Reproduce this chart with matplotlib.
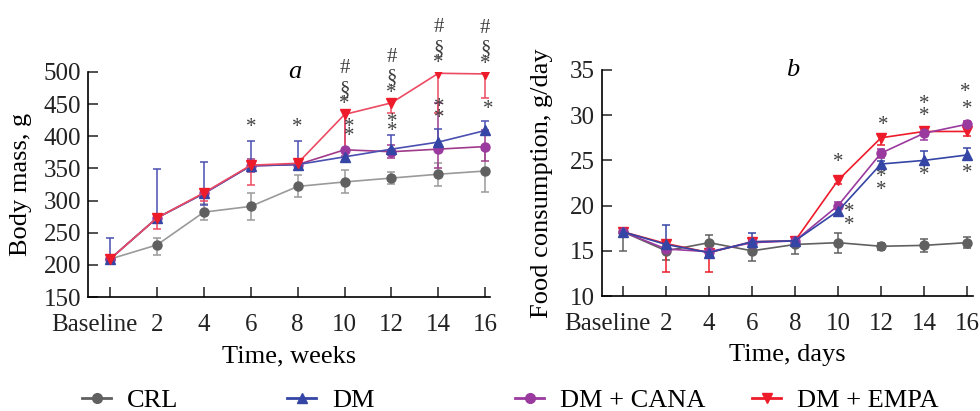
import numpy as np
import matplotlib.pyplot as plt
from matplotlib.lines import Line2D

plt.rcParams['font.family'] = ['Liberation Serif', 'DejaVu Serif']

# ── data ──────────────────────────────────────────────────────────────────────
time_labels = ['Baseline', '2', '4', '6', '8', '10', '12', '14', '16']
groups = ['CRL', 'DM', 'DM + CANA', 'DM + EMPA']

# (a) body mass, g  — error bars as (lower, upper)
mass_crl = [209, 231, 282, 291, 322, 329, 335, 341, 346]
mass_crl_lo = [5, 15, 13, 22, 17, 18, 9, 18, 32]
mass_crl_hi = [5, 10, 13, 20, 17, 18, 9, 18, 32]
mass_dm = [209, 273, 311, 354, 356, 368, 380, 391, 409]
mass_dm_lo = [5, 5, 18, 5, 5, 5, 5, 5, 5]
mass_dm_hi = [33, 76, 49, 39, 37, 12, 22, 20, 14]
mass_cana = [209, 273, 311, 354, 356, 379, 376, 380, 384]
mass_cana_lo = [5, 5, 5, 10, 5, 10, 10, 30, 22]
mass_cana_hi = [5, 5, 5, 10, 5, 60, 10, 72, 25]
mass_empa = [209, 273, 312, 355, 358, 434, 452, 498, 497]
mass_empa_lo = [5, 17, 13, 31, 10, 55, 16, 62, 37]
mass_empa_hi = [5, 5, 5, 5, 5, 7, 5, 5, 5]

# (b) food consumption, g/day
food_crl = [17.1, 15.0, 15.9, 15.0, 15.7, 15.9, 15.5, 15.6, 15.9]
food_crl_lo = [2.1, 1.0, 0.8, 1.1, 1.0, 1.1, 0.4, 0.7, 0.6]
food_crl_hi = [0.2, 0.8, 0.8, 1.1, 0.6, 1.1, 0.4, 0.7, 0.6]
food_dm = [17.1, 15.7, 14.8, 16.0, 16.1, 19.4, 24.6, 25.0, 25.6]
food_dm_lo = [0.2, 0.3, 0.3, 0.3, 0.3, 0.5, 0.5, 0.5, 0.5]
food_dm_hi = [0.2, 2.1, 0.3, 1.0, 0.3, 0.5, 0.3, 1.0, 0.8]
food_cana = [17.1, 15.2, 14.9, 15.9, 16.1, 20.0, 25.8, 28.0, 29.0]
food_cana_lo = [0.2, 0.3, 0.3, 0.3, 0.3, 0.4, 0.5, 0.7, 0.4]
food_cana_hi = [0.2, 0.3, 0.3, 0.3, 0.3, 0.4, 0.5, 0.7, 0.4]
food_empa = [17.1, 15.8, 14.8, 16.0, 16.1, 22.8, 27.5, 28.2, 28.2]
food_empa_lo = [0.2, 3.2, 2.1, 0.3, 0.3, 0.4, 0.8, 0.4, 0.5]
food_empa_hi = [0.2, 0.3, 0.3, 0.3, 0.3, 0.4, 0.3, 0.4, 0.3]

# significance marks: (time index, y value)
marks_a = [(3, 413), (4, 413),
           (5.09, 414), (5.09, 399),
           (6.02, 422), (6.02, 407),
           (7.02, 445), (7.02, 428),
           (8.06, 441)]
empa_marks_a = [5, 6, 7, 8]   # '#', '§', '*' stacked above DM + EMPA
marks_b = [(5, 24.8), (5.26, 19.2), (5.26, 17.8),
           (6.05, 28.9), (6.0, 23.1), (6.0, 21.7),
           (7.0, 31.2), (7.0, 29.9), (7.0, 23.3),
           (7.95, 32.5), (8.0, 30.6), (8.0, 23.6)]

colors = {'CRL': '#606060', 'DM': '#3545a5', 'DM + CANA': '#9a3a9e', 'DM + EMPA': '#ee1c2a'}
line_colors_a = {'CRL': '#9a9a9a', 'DM': '#4a4fb0', 'DM + CANA': '#a03a8a', 'DM + EMPA': '#ec4a62'}
markers = {'CRL': 'o', 'DM': '^', 'DM + CANA': 'o', 'DM + EMPA': 'v'}

x = np.arange(len(time_labels))

fig = plt.figure(figsize=(9.8, 4.11), dpi=100)
ax1 = fig.add_axes([88 / 980, 1 - 297 / 411, (490 - 88) / 980, 225 / 411])
ax2 = fig.add_axes([602 / 980, 1 - 296 / 411, (973 - 602) / 980, 226 / 411])


def draw_series(ax, vals, lo, hi, name, lc):
    ax.errorbar(x, vals, yerr=[lo, hi], color=lc, ecolor=lc, elinewidth=1.1,
                capsize=3, capthick=1.1, lw=1.2, marker=markers[name],
                markersize=6.5, mfc=colors[name], mec=colors[name], zorder=3)


series_a = [('CRL', mass_crl, mass_crl_lo, mass_crl_hi),
            ('DM + CANA', mass_cana, mass_cana_lo, mass_cana_hi),
            ('DM', mass_dm, mass_dm_lo, mass_dm_hi),
            ('DM + EMPA', mass_empa, mass_empa_lo, mass_empa_hi)]
for name, v, lo, hi in series_a:
    draw_series(ax1, v, lo, hi, name, line_colors_a[name])

series_b = [('CRL', food_crl, food_crl_lo, food_crl_hi),
            ('DM + EMPA', food_empa, food_empa_lo, food_empa_hi),
            ('DM + CANA', food_cana, food_cana_lo, food_cana_hi),
            ('DM', food_dm, food_dm_lo, food_dm_hi)]
for name, v, lo, hi in series_b:
    draw_series(ax2, v, lo, hi, name, colors[name])

star_kw = dict(ha='center', va='center', fontsize=15, color='#404040', clip_on=False)
for xi, yi in marks_a:
    ax1.text(xi, yi, '*', **star_kw)
for i in empa_marks_a:
    for off, s in [(7, '*'), (18, '§'), (33, '#')]:
        ax1.annotate(s, (i, mass_empa[i]), xytext=(0, off), textcoords='offset points',
                     ha='center', va='center', fontsize=15, color='#404040',
                     annotation_clip=False)
for xi, yi in marks_b:
    ax2.text(xi, yi, '*', **star_kw)

tick_pad = 12
for ax in (ax1, ax2):
    ax.spines['top'].set_visible(False)
    ax.spines['right'].set_visible(False)
    ax.spines['left'].set_linewidth(1.2)
    ax.spines['bottom'].set_linewidth(1.2)
    ax.set_xticks(x)
    # "Baseline" sits a bit left of its tick so it clears the "2"
    ax.set_xticklabels([''] + time_labels[1:])
    ax.annotate(time_labels[0], xy=(0, 0), xycoords=('data', 'axes fraction'),
                xytext=(-11.5, -tick_pad), textcoords='offset points',
                ha='center', va='top', fontsize=18, color='#222222')
    ax.tick_params(direction='in', length=7, width=1.1, labelsize=18, colors='#222222')
    ax.tick_params(axis='x', pad=tick_pad)
    ax.tick_params(axis='y', pad=5)

ax1.set_xlim(-0.47, 8.1)
ax1.set_ylim(150, 500)
ax1.set_yticks(np.arange(150, 501, 50))
ax1.set_xlabel('Time, weeks', fontsize=19, labelpad=7)
ax1.set_ylabel('Body mass, g', fontsize=19, labelpad=8)
ax1.text(3.95, 500, 'a', fontsize=19, style='italic', ha='center', va='center')

ax2.set_xlim(-0.49, 8.14)
ax2.set_ylim(10, 35)
ax2.set_yticks(np.arange(10, 36, 5))
ax2.set_xlabel('Time, days', fontsize=19, labelpad=7)
ax2.set_ylabel('Food consumption, g/day', fontsize=19, labelpad=12)
ax2.text(3.95, 35, 'b', fontsize=19, style='italic', ha='center', va='center')

# legend items placed individually along the bottom
legend_left = [82, 287, 515, 752]
for name, xl in zip(groups, legend_left):
    h = Line2D([], [], color=colors[name], marker=markers[name], markersize=7, lw=2)
    fig.legend(handles=[h], labels=[name], loc='center left',
               bbox_to_anchor=(xl / 980, 1 - 400 / 411), frameon=False,
               fontsize=19, handlelength=1.1, handletextpad=0.6,
               borderpad=0, borderaxespad=0)

fig.savefig('out.png', dpi=100)
